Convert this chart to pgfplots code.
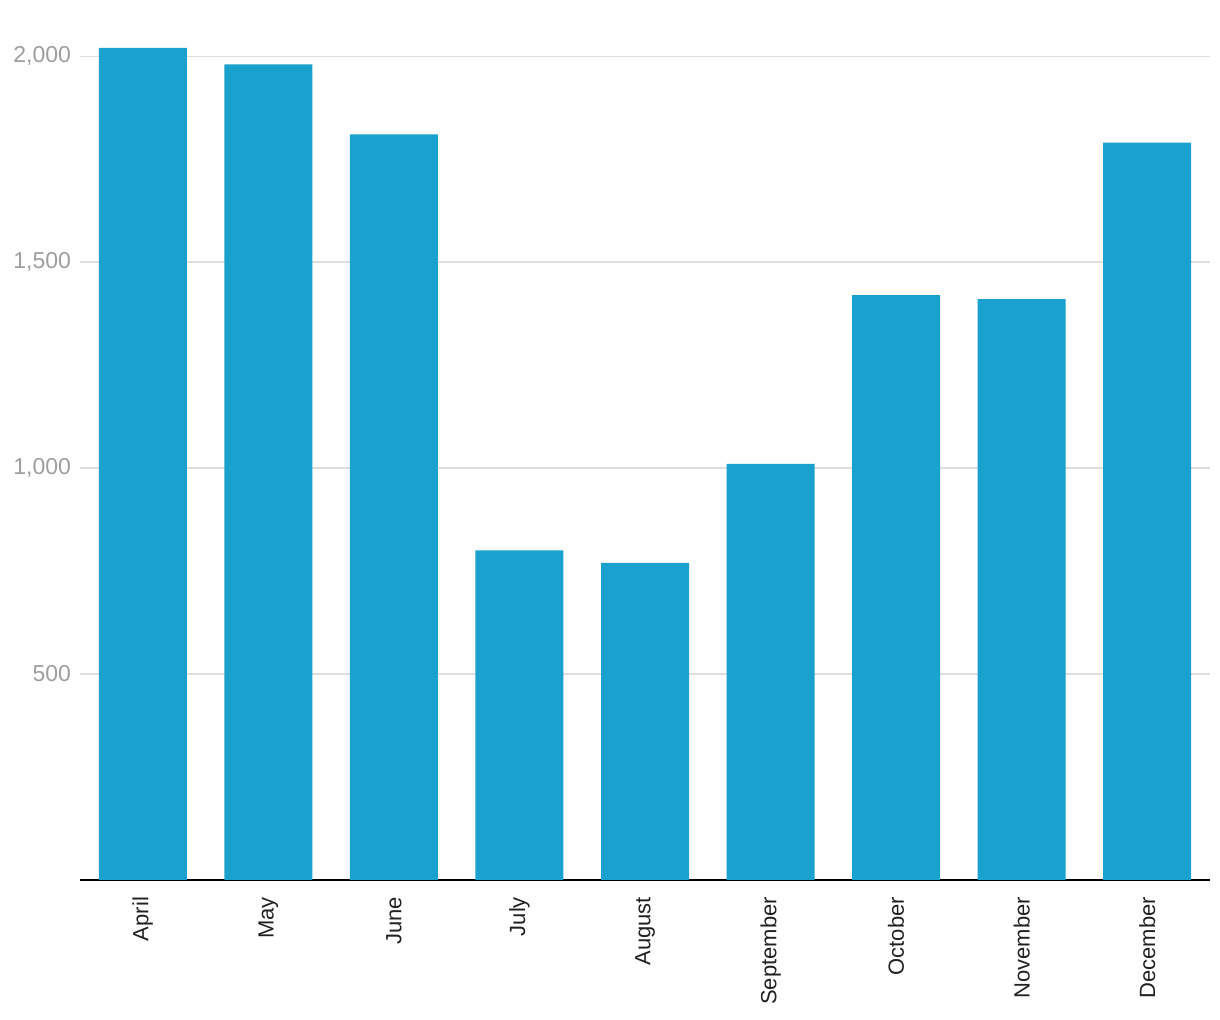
\documentclass[border=0pt]{standalone}
\usepackage{pgfplots}
\pgfplotsset{compat=1.18}
\usepackage{fontspec}
\setmainfont{Liberation Sans}
\definecolor{barc}{RGB}{26,161,205}
\definecolor{gridc}{RGB}{222,222,222}
\definecolor{ytc}{RGB}{158,158,158}
\definecolor{xtc}{RGB}{33,33,33}
\begin{document}
\begin{tikzpicture}
\useasboundingbox (-40pt,-70pt) rectangle (570pt,440pt);
\begin{axis}[
  at={(0,0)}, anchor=south west,
  scale only axis, width=565pt, height=416pt,
  xmin=-0.5, xmax=8.5, ymin=0, ymax=2020,
  ybar, bar width=44pt, bar shift=0pt,
  axis x line*=bottom, axis y line*=left,
  x axis line style={black, line width=0.8pt, -},
  y axis line style={draw=none},
  xtick=data, xticklabels={April,May,June,July,August,September,October,November,December},
  x tick label style={rotate=90, anchor=east, font=\fontsize{11}{13}\selectfont, text=xtc},
  xtick style={draw=none},
  ytick={500,1000,1500,2000},
  ymajorgrids, grid style={gridc, line width=0.7pt},
  yticklabel style={font=\fontsize{11.5}{13}\selectfont, text=ytc},
  /pgf/number format/assume math mode=true,
  /pgf/number format/.cd, 1000 sep={,}, /pgfplots/.cd,
  ytick style={draw=none},
  major tick length=0pt,
  xticklabel shift=5pt, yticklabel shift=1pt,
  clip=false,
]
\addplot[fill=barc, draw=none] coordinates {
(0,2020) (1,1980) (2,1810) (3,800) (4,770) (5,1010) (6,1420) (7,1410) (8,1790)};
\end{axis}
\end{tikzpicture}
\end{document}
